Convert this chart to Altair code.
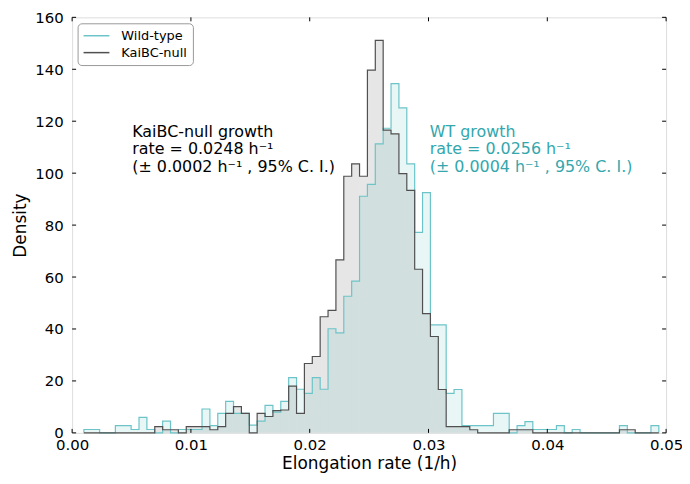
import altair as alt
import pandas as pd

# ---- data ----
bin_start = 0.00099
bin_width = 0.000663

wild_type = [1.3, 1.3, 0, 0, 2.8, 2.8, 1.3, 6.0, 1.3, 0,
             4.5, 0, 1.3, 1.3, 1.3, 9.2, 2.8, 7.5, 12.1, 7.5,
             7.5, 3.0, 4.5, 10.6, 8.0, 12.1, 21.3, 16.8, 15.2, 21.3,
             16.8, 40.1, 38.5, 52.6, 58.4, 91.1, 95.7, 111.3, 117.3, 134.5,
             125.1, 103.6, 77.2, 92.5, 41.6, 41.6, 15.2, 16.7, 2.8, 2.8,
             2.8, 2.8, 7.5, 7.5, 0, 2.8, 4.3, 1.3, 1.3, 1.3,
             2.8, 0, 1.3, 0, 0, 0, 0, 0, 2.8, 0,
             0, 0, 2.8]

kaibc_null = [0, 0, 0, 0, 0, 0, 0, 0, 0, 2.4,
              1.2, 1.2, 0, 2.4, 2.4, 2.4, 1.2, 2.4, 7.5, 10.1,
              7.5, 0, 7.5, 6.3, 8.6, 8.8, 18.0, 7.5, 26.7, 29.4,
              44.7, 47.2, 66.6, 98.8, 103.6, 98.8, 139.7, 151.1, 116.6, 115.1,
              99.8, 93.4, 63.0, 45.9, 37.1, 16.7, 2.4, 2.4, 2.4, 1.2,
              0, 0, 0, 0, 1.2, 1.2, 1.2, 0, 0, 0,
              0, 0, 0, 0, 0, 0, 0, 0, 1.2, 1.2,
              0, 0, 0]

series_names = ["Wild-type", "KaiBC-null"]
x_ticks = [0.0, 0.01, 0.02, 0.03, 0.04, 0.05]
y_ticks = [0, 20, 40, 60, 80, 100, 120, 140, 160]

kai_lines = ["KaiBC-null growth", "rate = 0.0248 h⁻¹", "(± 0.0002 h⁻¹ , 95% C. I.)"]
wt_lines = ["WT growth", "rate = 0.0256 h⁻¹", "(± 0.0004 h⁻¹ , 95% C. I.)"]
kai_text_x = 0.00506
wt_text_x = 0.0301
text_y = [116.0, 109.1, 102.2]

# ---- styling ----
TEAL_LINE = "#6cc4c8"
GRAY_LINE = "#505050"
TEAL_FILL = "#2aa3aa"
GRAY_FILL = "#808080"
TEAL_TEXT = "#33a7ad"
FONT = "DejaVu Sans"
W, H = 597.5, 418


def step_rows(vals, name):
    n = len(vals)
    edges = [bin_start + bin_width * k for k in range(n + 1)]
    rows = [{"x": edges[0], "y": 0.0, "series": name, "o": 0}]
    for i, v in enumerate(vals):
        rows.append({"x": edges[i], "y": v, "series": name, "o": i + 1})
    rows.append({"x": edges[n], "y": 0.0, "series": name, "o": n + 1})
    return rows


wt_df = pd.DataFrame(step_rows(wild_type, "Wild-type"))
kai_df = pd.DataFrame(step_rows(kaibc_null, "KaiBC-null"))
all_df = pd.concat([wt_df, kai_df], ignore_index=True)

xscale = alt.Scale(domain=[0, 0.05], nice=False, zero=False)
yscale = alt.Scale(domain=[0, 160], nice=False)

xaxis = alt.Axis(values=x_ticks, format=".2f", ticks=False, tickSize=0, domain=False,
                 grid=False, labelFontSize=15, labelFont=FONT, labelColor="black",
                 labelPadding=5, titleFontSize=17, titleFont=FONT, titleFontWeight="normal",
                 titleColor="black", titlePadding=3, labelFlush=False)
yaxis = alt.Axis(values=y_ticks, ticks=False, tickSize=0, domain=False, grid=False,
                 labelFontSize=15, labelFont=FONT, labelColor="black", labelPadding=9,
                 titleFontSize=17, titleFont=FONT, titleFontWeight="normal",
                 titleColor="black", titlePadding=5, labelFlush=False)

XT = "Elongation rate (1/h)"
YT = "Density"


def X(field):
    return alt.X(field, type="quantitative", scale=xscale, axis=xaxis, title=XT)


def Y(field):
    return alt.Y(field, type="quantitative", scale=yscale, axis=yaxis, title=YT)


kai_area = alt.Chart(kai_df).mark_area(interpolate="step-after", color=GRAY_FILL,
                                       opacity=0.2).encode(x=X("x"), y=Y("y"), order="o:Q")
wt_area = alt.Chart(wt_df).mark_area(interpolate="step-after", color=TEAL_FILL,
                                     opacity=0.1).encode(x=X("x"), y=Y("y"), order="o:Q")

lines = alt.Chart(all_df).mark_line(interpolate="step-after", strokeWidth=1.2).encode(
    x=X("x"), y=Y("y"), order="o:Q", detail="series:N",
    stroke=alt.Stroke("series:N",
                      scale=alt.Scale(domain=series_names, range=[TEAL_LINE, GRAY_LINE]),
                      legend=alt.Legend(title=None, orient="none", legendX=5.5, legendY=6,
                                        symbolType="M-1,0H3", symbolSize=169,
                                        symbolStrokeWidth=1.5, labelFontSize=13,
                                        labelFont=FONT, labelColor="black", labelOffset=24,
                                        padding=5, rowPadding=2, strokeColor="#999999",
                                        cornerRadius=4, fillColor="white")))

kai_txt_df = pd.DataFrame({"t": kai_lines, "x": [kai_text_x] * 3, "y": text_y})
wt_txt_df = pd.DataFrame({"t": wt_lines, "x": [wt_text_x] * 3, "y": text_y})

kai_text = alt.Chart(kai_txt_df).mark_text(align="left", baseline="middle", fontSize=16,
                                           font=FONT, color="black").encode(
    x=X("x"), y=Y("y"), text="t:N")
wt_text = alt.Chart(wt_txt_df).mark_text(align="left", baseline="middle", fontSize=16,
                                         font=FONT, color=TEAL_TEXT).encode(
    x=X("x"), y=Y("y"), text="t:N")

xt_df = pd.DataFrame({"x": x_ticks})
yt_df = pd.DataFrame({"y": y_ticks})
tick_len = 4
xt_bottom = alt.Chart(xt_df).mark_rule(color="black", strokeWidth=1).encode(
    x=X("x"), y=alt.value(H), y2=alt.value(H - tick_len))
xt_top = alt.Chart(xt_df).mark_rule(color="black", strokeWidth=1).encode(
    x=X("x"), y=alt.value(0), y2=alt.value(tick_len))
yt_left = alt.Chart(yt_df).mark_rule(color="black", strokeWidth=1).encode(
    y=Y("y"), x=alt.value(0), x2=alt.value(tick_len))
yt_right = alt.Chart(yt_df).mark_rule(color="black", strokeWidth=1).encode(
    y=Y("y"), x=alt.value(W), x2=alt.value(W - tick_len))

chart = alt.layer(kai_area, wt_area, lines, kai_text, wt_text,
                  xt_bottom, xt_top, yt_left, yt_right).properties(
    width=W, height=H,
    autosize=alt.AutoSizeParams(type="none"),
    padding={"left": 64.5, "top": 8, "right": 16, "bottom": 42},
).configure_view(stroke="black", strokeWidth=1.2).configure(background="white")

chart.save("out.html", embed_options={"renderer": "svg", "actions": False})
